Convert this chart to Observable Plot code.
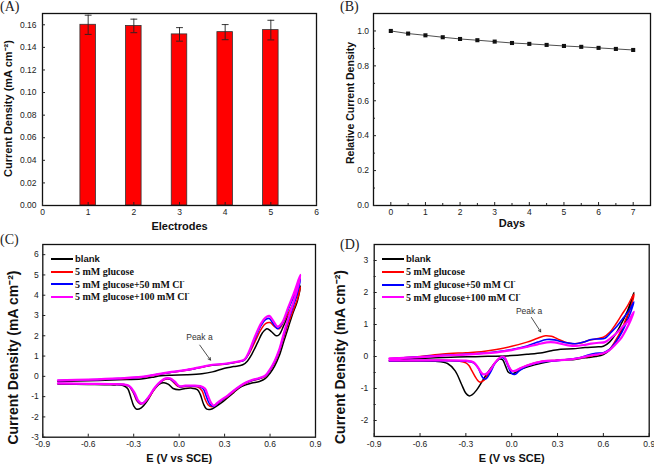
<!DOCTYPE html>
<html><head><meta charset="utf-8">
<script src="https://cdn.jsdelivr.net/npm/d3@7"></script>
<script src="https://cdn.jsdelivr.net/npm/@observablehq/plot@0.6"></script>
<style>
body{margin:0;background:#fff;}
#wrap{position:relative;width:654px;height:465px;overflow:hidden;background:#fff;}
.panel{position:absolute;}
.plabel{position:absolute;font-family:"Liberation Serif","Times New Roman",serif;font-size:14px;line-height:14px;color:#222;}
.legend{position:absolute;font-family:"Liberation Serif","Times New Roman",serif;font-weight:bold;font-size:10px;color:#111;}
.legend .row{position:absolute;left:0;height:12px;line-height:12px;white-space:nowrap;}
.legend .sw{display:inline-block;width:22px;height:0;border-top:2px solid #000;vertical-align:middle;margin-right:2px;position:relative;top:-1px;}
.legend .sans{font-family:"Liberation Sans",Arial,sans-serif;font-size:9.5px;}
.legend sup{font-size:7px;vertical-align:5px;line-height:0;}
</style>
</head><body>
<div id="wrap"></div>
<script>
// ---------- Panel A data ----------
const electrodes = [1, 2, 3, 4, 5];
const densityA = [0.160, 0.159, 0.1515, 0.1535, 0.1553];
const errorA = [0.0085, 0.006, 0.006, 0.0067, 0.0087];
const xTicksA = [0, 1, 2, 3, 4, 5, 6];
const yTicksA = [0, 0.02, 0.04, 0.06, 0.08, 0.10, 0.12, 0.14, 0.16];

// ---------- Panel B data ----------
const days = [0, 0.5, 1, 1.5, 2, 2.5, 3, 3.5, 4, 4.5, 5, 5.5, 6, 6.5, 7];
const relDensity = [1.0, 0.985, 0.975, 0.964, 0.954, 0.947, 0.939, 0.931, 0.926, 0.92, 0.914, 0.909, 0.903, 0.897, 0.891];
const xTicksB = [0, 1, 2, 3, 4, 5, 6, 7];
const xMinorB = [0.5, 1.5, 2.5, 3.5, 4.5, 5.5, 6.5];
const yTicksB = [0, 0.2, 0.4, 0.6, 0.8, 1.0];
const yMinorB = [0.1, 0.3, 0.5, 0.7, 0.9];

// ---------- CV series ----------
const cvNames = ["blank", "5 mM glucose", "5 mM glucose+50 mM Cl", "5 mM glucose+100 mM Cl"];
const cvColors = ["#000000", "#ff0000", "#0000ff", "#ff00ff"];
const cvWidths = [1.5, 1.5, 1.6, 2.2];
const eTicks = [-0.9, -0.6, -0.3, 0.0, 0.3, 0.6, 0.9];
const yTicksC = [-3, -2, -1, 0, 1, 2, 3, 4, 5, 6];
const yTicksD = [-2, -1, 0, 1, 2, 3];
const yMinorD = [-2.5, -1.5, -0.5, 0.5, 1.5, 2.5];

// Panel C: [E (V), j (mA cm-2)], anodic sweep then cathodic sweep
const cvC_blank = [[-0.80,-0.25],[-0.60,-0.22],[-0.40,-0.17],[-0.25,-0.13],[-0.18,-0.05],[-0.12,0.03],[-0.05,0.06],[0.05,0.08],[0.15,0.13],[0.22,0.22],[0.30,0.40],[0.36,0.48],[0.42,0.57],[0.45,0.75],[0.48,1.1],[0.52,1.7],[0.55,2.15],[0.58,2.35],[0.61,2.2],[0.64,2.0],[0.66,2.05],[0.69,2.5],[0.72,3.0],[0.76,3.7],[0.80,4.45],
 [0.78,3.7],[0.75,3.1],[0.72,2.4],[0.69,1.7],[0.66,1.0],[0.63,0.5],[0.60,0.15],[0.57,-0.1],[0.53,-0.25],[0.48,-0.33],[0.44,-0.42],[0.40,-0.55],[0.36,-0.8],[0.32,-1.05],[0.28,-1.3],[0.24,-1.5],[0.21,-1.62],[0.18,-1.6],[0.16,-1.35],[0.14,-0.9],[0.12,-0.65],[0.08,-0.58],[0.04,-0.6],[0.0,-0.66],[-0.04,-0.6],[-0.07,-0.4],[-0.10,-0.32],[-0.13,-0.38],[-0.17,-0.7],[-0.21,-1.2],[-0.25,-1.55],[-0.28,-1.62],[-0.30,-1.45],[-0.32,-1.0],[-0.34,-0.6],[-0.37,-0.45],[-0.45,-0.42],[-0.60,-0.40],[-0.80,-0.38]];
const cvC_glucose = [[-0.80,-0.22],[-0.60,-0.18],[-0.40,-0.12],[-0.25,-0.05],[-0.15,0.08],[-0.05,0.2],[0.05,0.3],[0.15,0.45],[0.22,0.55],[0.30,0.6],[0.38,0.7],[0.43,0.8],[0.46,1.1],[0.50,1.7],[0.54,2.3],[0.57,2.6],[0.60,2.65],[0.63,2.45],[0.66,2.35],[0.69,2.7],[0.72,3.1],[0.76,3.7],[0.80,4.4],
 [0.78,3.8],[0.75,3.2],[0.72,2.6],[0.69,1.9],[0.66,1.2],[0.63,0.65],[0.60,0.3],[0.57,0.0],[0.53,-0.12],[0.48,-0.22],[0.44,-0.35],[0.40,-0.52],[0.36,-0.75],[0.32,-1.0],[0.28,-1.2],[0.24,-1.4],[0.215,-1.5],[0.19,-1.4],[0.17,-1.1],[0.15,-0.7],[0.12,-0.52],[0.08,-0.5],[0.04,-0.5],[0.0,-0.52],[-0.03,-0.35],[-0.06,-0.15],[-0.09,-0.14],[-0.12,-0.28],[-0.16,-0.6],[-0.20,-1.05],[-0.24,-1.33],[-0.26,-1.35],[-0.28,-1.2],[-0.30,-0.85],[-0.33,-0.5],[-0.37,-0.4],[-0.45,-0.38],[-0.60,-0.37],[-0.80,-0.35]];
const cvC_cl50 = [[-0.80,-0.21],[-0.60,-0.17],[-0.40,-0.11],[-0.25,-0.04],[-0.15,0.09],[-0.05,0.21],[0.05,0.31],[0.15,0.46],[0.22,0.56],[0.30,0.61],[0.38,0.71],[0.43,0.8],[0.46,1.15],[0.50,1.85],[0.54,2.5],[0.57,2.8],[0.595,2.85],[0.62,2.6],[0.65,2.35],[0.68,2.6],[0.72,3.3],[0.76,4.0],[0.80,4.8],
 [0.78,4.1],[0.75,3.4],[0.72,2.75],[0.69,2.0],[0.66,1.25],[0.63,0.7],[0.60,0.32],[0.57,0.02],[0.53,-0.1],[0.48,-0.2],[0.44,-0.32],[0.40,-0.5],[0.36,-0.72],[0.32,-0.98],[0.28,-1.18],[0.25,-1.35],[0.225,-1.48],[0.20,-1.35],[0.18,-1.0],[0.16,-0.62],[0.13,-0.5],[0.08,-0.48],[0.04,-0.48],[0.0,-0.5],[-0.03,-0.3],[-0.06,-0.13],[-0.09,-0.12],[-0.12,-0.26],[-0.16,-0.58],[-0.20,-1.0],[-0.235,-1.3],[-0.255,-1.34],[-0.275,-1.2],[-0.30,-0.8],[-0.33,-0.48],[-0.37,-0.4],[-0.45,-0.38],[-0.60,-0.37],[-0.80,-0.35]];
const cvC_cl100 = [[-0.80,-0.2],[-0.60,-0.16],[-0.40,-0.1],[-0.25,-0.03],[-0.15,0.1],[-0.05,0.22],[0.05,0.32],[0.15,0.47],[0.22,0.57],[0.30,0.62],[0.38,0.72],[0.43,0.82],[0.46,1.2],[0.50,1.95],[0.54,2.6],[0.57,2.9],[0.595,2.98],[0.62,2.75],[0.65,2.45],[0.68,2.65],[0.72,3.4],[0.76,4.15],[0.80,5.0],
 [0.78,4.3],[0.75,3.55],[0.72,2.85],[0.69,2.1],[0.66,1.3],[0.63,0.75],[0.60,0.35],[0.57,0.05],[0.53,-0.08],[0.48,-0.18],[0.44,-0.3],[0.40,-0.48],[0.36,-0.7],[0.32,-0.95],[0.28,-1.15],[0.25,-1.32],[0.23,-1.45],[0.21,-1.3],[0.19,-0.95],[0.17,-0.6],[0.14,-0.48],[0.08,-0.46],[0.04,-0.46],[0.0,-0.48],[-0.03,-0.25],[-0.06,-0.1],[-0.09,-0.1],[-0.12,-0.24],[-0.16,-0.55],[-0.20,-1.0],[-0.23,-1.28],[-0.25,-1.33],[-0.27,-1.2],[-0.295,-0.8],[-0.33,-0.47],[-0.37,-0.4],[-0.45,-0.38],[-0.60,-0.37],[-0.80,-0.35]];

// Panel D
const cvD_blank = [[-0.80,-0.12],[-0.60,-0.06],[-0.40,-0.02],[-0.20,0.0],[0.0,0.03],[0.10,0.07],[0.20,0.12],[0.26,0.18],[0.32,0.23],[0.40,0.24],[0.48,0.28],[0.55,0.3],[0.60,0.32],[0.64,0.45],[0.68,0.7],[0.72,1.05],[0.76,1.45],[0.80,2.0],
 [0.78,1.6],[0.75,1.15],[0.72,0.8],[0.68,0.45],[0.64,0.2],[0.60,0.06],[0.55,0.0],[0.50,-0.03],[0.45,-0.06],[0.40,-0.1],[0.35,-0.1],[0.30,-0.12],[0.20,-0.2],[0.10,-0.33],[0.05,-0.42],[0.01,-0.53],[-0.02,-0.5],[-0.04,-0.3],[-0.06,-0.1],[-0.08,-0.08],[-0.11,-0.2],[-0.15,-0.45],[-0.19,-0.75],[-0.23,-1.05],[-0.26,-1.2],[-0.28,-1.23],[-0.30,-1.15],[-0.33,-0.85],[-0.37,-0.45],[-0.42,-0.22],[-0.50,-0.15],[-0.65,-0.14],[-0.80,-0.15]];
const cvD_glucose = [[-0.80,-0.07],[-0.60,0.0],[-0.45,0.08],[-0.30,0.12],[-0.20,0.15],[-0.10,0.22],[0.0,0.32],[0.10,0.45],[0.17,0.57],[0.22,0.65],[0.26,0.63],[0.30,0.55],[0.35,0.45],[0.40,0.4],[0.45,0.42],[0.50,0.5],[0.55,0.55],[0.60,0.6],[0.64,0.75],[0.68,1.0],[0.72,1.3],[0.76,1.6],[0.80,1.95],
 [0.78,1.55],[0.75,1.2],[0.72,0.85],[0.68,0.5],[0.64,0.22],[0.60,0.1],[0.55,0.05],[0.50,0.0],[0.45,-0.04],[0.40,-0.08],[0.30,-0.12],[0.20,-0.15],[0.10,-0.28],[0.05,-0.38],[0.02,-0.46],[0.0,-0.45],[-0.02,-0.3],[-0.045,-0.05],[-0.06,-0.02],[-0.08,-0.05],[-0.11,-0.2],[-0.15,-0.5],[-0.18,-0.74],[-0.21,-0.8],[-0.23,-0.7],[-0.26,-0.45],[-0.28,-0.28],[-0.30,-0.2],[-0.34,-0.15],[-0.45,-0.12],[-0.65,-0.13],[-0.80,-0.14]];
const cvD_cl50 = [[-0.80,-0.07],[-0.60,-0.01],[-0.45,0.04],[-0.30,0.07],[-0.20,0.1],[-0.10,0.15],[0.0,0.22],[0.10,0.33],[0.17,0.45],[0.23,0.53],[0.28,0.52],[0.32,0.47],[0.37,0.42],[0.42,0.4],[0.47,0.45],[0.52,0.53],[0.57,0.55],[0.61,0.57],[0.65,0.75],[0.69,0.95],[0.73,1.2],[0.77,1.45],[0.80,1.7],
 [0.78,1.4],[0.75,1.05],[0.72,0.75],[0.68,0.45],[0.64,0.22],[0.60,0.12],[0.55,0.1],[0.50,0.05],[0.45,-0.03],[0.40,-0.07],[0.30,-0.13],[0.20,-0.17],[0.10,-0.3],[0.05,-0.45],[0.02,-0.56],[0.0,-0.53],[-0.02,-0.35],[-0.045,-0.08],[-0.06,-0.03],[-0.08,-0.06],[-0.11,-0.22],[-0.14,-0.5],[-0.17,-0.7],[-0.19,-0.66],[-0.22,-0.35],[-0.25,-0.2],[-0.30,-0.15],[-0.45,-0.13],[-0.65,-0.13],[-0.80,-0.14]];
const cvD_cl100 = [[-0.80,-0.06],[-0.60,-0.02],[-0.45,0.03],[-0.30,0.06],[-0.20,0.09],[-0.10,0.13],[0.0,0.2],[0.10,0.3],[0.17,0.38],[0.23,0.44],[0.28,0.44],[0.32,0.4],[0.37,0.35],[0.42,0.33],[0.47,0.36],[0.52,0.4],[0.57,0.43],[0.61,0.45],[0.65,0.58],[0.69,0.75],[0.73,0.95],[0.77,1.15],[0.80,1.4],
 [0.78,1.15],[0.75,0.85],[0.72,0.6],[0.68,0.38],[0.64,0.2],[0.60,0.1],[0.55,0.06],[0.50,0.02],[0.45,-0.04],[0.40,-0.08],[0.30,-0.12],[0.20,-0.15],[0.10,-0.28],[0.05,-0.38],[0.02,-0.45],[0.0,-0.44],[-0.02,-0.3],[-0.045,-0.04],[-0.06,0.0],[-0.08,-0.05],[-0.11,-0.2],[-0.14,-0.42],[-0.17,-0.55],[-0.19,-0.55],[-0.22,-0.35],[-0.25,-0.18],[-0.30,-0.13],[-0.45,-0.12],[-0.65,-0.12],[-0.80,-0.12]];

const peakC = [{tx: 0.134, ty: 1.94, x1: 0.136, y1: 1.54, x2: 0.207, y2: 0.80}];
const peakD = [{tx: 0.114, ty: 1.42, x1: 0.129, y1: 1.22, x2: 0.19, y2: 0.77}];

// ---------- helpers ----------
const wrap = document.getElementById("wrap");
const baseStyle = {fontFamily: "'Liberation Sans', Arial, sans-serif", fontSize: "8.5px", color: "#222", background: "white", overflow: "visible"};
const frameMark = () => Plot.frame({stroke: "#111", strokeWidth: 1.3});
const fmt = (n) => (d) => d.toFixed(n);
const blankFmt = () => "";

function place(svg, left, top) {
  svg.classList.add("panel");
  svg.style.left = left + "px";
  svg.style.top = top + "px";
  wrap.appendChild(svg);
}
function plabel(txt, left, top) {
  const d = document.createElement("div");
  d.className = "plabel"; d.textContent = txt;
  d.style.left = left + "px"; d.style.top = top + "px";
  wrap.appendChild(d);
}
function legend(left, top, spacing) {
  const lg = document.createElement("div");
  lg.className = "legend"; lg.style.left = left + "px"; lg.style.top = top + "px";
  cvNames.forEach((name, i) => {
    const r = document.createElement("div");
    r.className = "row"; r.style.top = (i * spacing) + "px";
    const sw = document.createElement("span");
    sw.className = "sw"; sw.style.borderTopColor = cvColors[i];
    r.appendChild(sw);
    const t = document.createElement("span");
    if (i === 0) { t.className = "sans"; t.textContent = name; }
    else if (name.endsWith("Cl")) { t.innerHTML = name + "<sup>-</sup>"; }
    else { t.textContent = name; }
    r.appendChild(t);
    lg.appendChild(r);
  });
  wrap.appendChild(lg);
}
const toPts = (arr) => arr.map(([e, j], k) => ({e, j, k}));
const xTitle = (txt, dy, size) => Plot.text([txt], {frameAnchor: "bottom", dy, textAnchor: "middle", lineAnchor: "middle", fontWeight: "bold", fontSize: size, fill: "#111"});
const yTitle = (txt, dx, dy, size) => Plot.text([txt], {frameAnchor: "left", dx, dy, rotate: -90, textAnchor: "middle", lineAnchor: "middle", fontWeight: "bold", fontSize: size, fill: "#111"});

// ---------- Panel A ----------
const barData = electrodes.map((e, i) => ({e, v: densityA[i], sd: errorA[i]}));
const plotA = Plot.plot({
  width: 327, height: 230, marginTop: 13, marginRight: 11, marginBottom: 25, marginLeft: 42,
  style: baseStyle,
  x: {domain: [0, 6], label: null},
  y: {domain: [0, 0.17], label: null},
  marks: [
    Plot.rect(barData, {x1: d => d.e - 0.17, x2: d => d.e + 0.17, y1: () => 0, y2: "v", fill: "#ff0000", stroke: "#333", strokeWidth: 0.8}),
    Plot.ruleX(barData, {x: "e", y1: d => d.v - d.sd, y2: d => d.v + d.sd, stroke: "#222", strokeWidth: 0.9}),
    Plot.link(barData, {x1: d => d.e - 0.075, x2: d => d.e + 0.075, y1: d => d.v + d.sd, y2: d => d.v + d.sd, stroke: "#222", strokeWidth: 0.9}),
    Plot.link(barData, {x1: d => d.e - 0.075, x2: d => d.e + 0.075, y1: d => d.v - d.sd, y2: d => d.v - d.sd, stroke: "#222", strokeWidth: 0.9}),
    frameMark(),
    Plot.axisX(xTicksA, {tickSize: -3, tickPadding: 6, tickFormat: fmt(0), label: null}),
    Plot.axisY(yTicksA, {tickSize: -3, tickPadding: 9, tickFormat: fmt(2), label: null}),
    xTitle("Electrodes", 21, 11),
    yTitle("Current Density (mA cm\u207B\u00B2)", -33.7, -1, 11)
  ]
});
place(plotA, 0, 0);

// ---------- Panel B ----------
const bData = days.map((d, i) => ({day: d, v: relDensity[i]}));
const plotB = Plot.plot({
  width: 327, height: 230, marginTop: 13, marginRight: 4, marginBottom: 25, marginLeft: 46,
  style: baseStyle,
  x: {domain: [-0.5, 7.5], label: null},
  y: {domain: [0, 1.1], label: null},
  marks: [
    Plot.line(bData, {x: "day", y: "v", stroke: "#222", strokeWidth: 0.8}),
    Plot.dot(bData, {x: "day", y: "v", symbol: "square", r: 2.3, fill: "#111", stroke: "none"}),
    frameMark(),
    Plot.axisX(xTicksB, {tickSize: -3, tickPadding: 6, tickFormat: fmt(0), label: null}),
    Plot.axisX(xMinorB, {tickSize: -2, tickPadding: 6, tickFormat: blankFmt, label: null}),
    Plot.axisY(yTicksB, {tickSize: -3, tickPadding: 7.5, tickFormat: fmt(1), label: null}),
    Plot.axisY(yMinorB, {tickSize: -2, tickPadding: 7.5, tickFormat: blankFmt, label: null}),
    xTitle("Days", 18, 11),
    yTitle("Relative Current Density", -23, -6.5, 10.5)
  ]
});
place(plotB, 327, 0);

// ---------- CV panels ----------
function cvPlot(curves, yDomain, yTicks, yMinor, margins, peak, yTitleDx, yTitleDy, yTickPad) {
  const lineMarks = curves.map((c, i) => Plot.line(toPts(c), {x: "e", y: "j", stroke: cvColors[i], strokeWidth: cvWidths[i], curve: "catmull-rom", strokeLinejoin: "round"}));
  const marks = [
    ...lineMarks,
    Plot.text(peak, {x: "tx", y: "ty", text: () => "Peak a", fontSize: 8.5, fill: "#333"}),
    Plot.arrow(peak, {x1: "x1", y1: "y1", x2: "x2", y2: "y2", stroke: "#222", strokeWidth: 0.8, headLength: 5, bend: 0}),
    frameMark(),
    Plot.axisX(eTicks, {tickSize: -3, tickPadding: 7, tickFormat: fmt(1), label: null}),
    Plot.axisY(yTicks, {tickSize: -3, tickPadding: yTickPad, tickFormat: fmt(0), label: null}),
    xTitle("E (V vs SCE)", 21.5, 11),
    yTitle("Current Density (mA cm\u207B\u00B2)", yTitleDx, yTitleDy, 14)
  ];
  if (yMinor) marks.push(Plot.axisY(yMinor, {tickSize: -2, tickPadding: yTickPad, tickFormat: blankFmt, label: null}));
  return Plot.plot({
    width: 327, height: 235, ...margins,
    style: baseStyle,
    x: {domain: [-0.9, 0.9], label: null},
    y: {domain: yDomain, label: null},
    marks
  });
}
const plotC = cvPlot([cvC_blank, cvC_glucose, cvC_cl50, cvC_cl100], [-3, 6.5], yTicksC, null,
  {marginTop: 14, marginRight: 12, marginBottom: 28.3, marginLeft: 42.3}, peakC, -29, 16.7, 7);
place(plotC, 0, 230);
const plotD = cvPlot([cvD_blank, cvD_glucose, cvD_cl50, cvD_cl100], [-2.5, 3.5], yTicksD, yMinorD,
  {marginTop: 14, marginRight: 5.3, marginBottom: 29, marginLeft: 46.7}, peakD, -33.7, 16.5, 9);
place(plotD, 327, 230);

legend(51, 253, 12.8);
legend(382, 253, 12.9);

plabel("(A)", 0, 0);
plabel("(B)", 340, 0);
plabel("(C)", 0, 233);
plabel("(D)", 340, 238);
</script>
</body></html>
